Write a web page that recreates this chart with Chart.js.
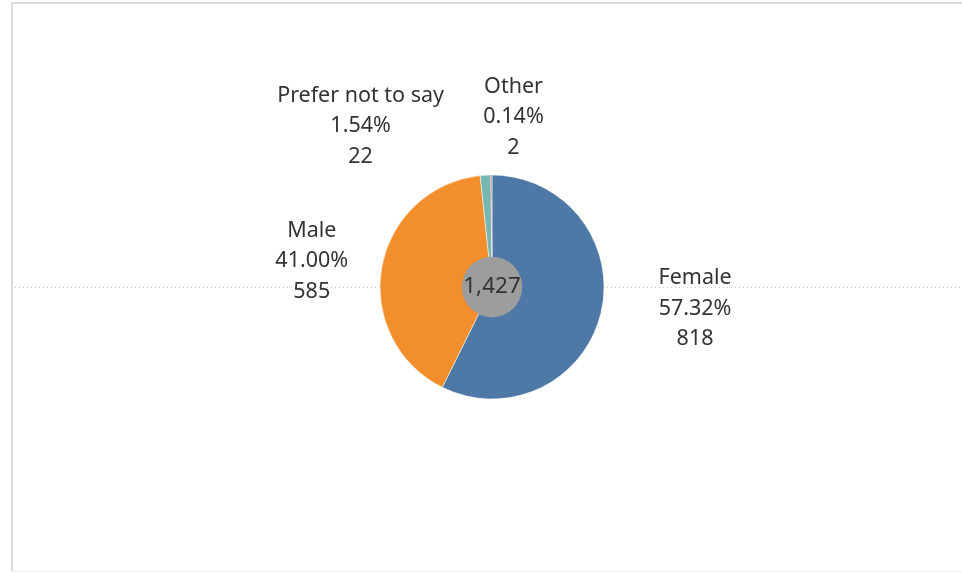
<!DOCTYPE html>
<html>
<head>
<meta charset="utf-8">
<script src="https://cdn.jsdelivr.net/npm/chart.js@4"></script>
<style>
  html, body { margin: 0; padding: 0; background: #fff; }
  #wrap { position: relative; width: 962px; height: 573px; }
  #frame {
    position: absolute; left: 11px; top: 2px; right: 0; bottom: 1px;
    border-top: 2px solid #dcdcdc; border-left: 2px solid #dcdcdc;
    border-bottom: 1px solid #f0f0f0;
  }
  canvas { position: absolute; left: 0; top: 0; }
</style>
</head>
<body>
<div id="wrap">
  <div id="frame"></div>
  <canvas id="chart" width="962" height="573"></canvas>
</div>
<script>
//categories, sorted the way the pie goes round from 12 o'clock
const categories = ["Female", "Male", "Prefer not to say", "Other"];
//counts per category
const counts = [818, 585, 22, 2];
//percent labels as shown
const percents = ["57.32%", "41.00%", "1.54%", "0.14%"];
//slice colours
const sliceColors = ["#4e79a7", "#f28e2b", "#76b7b2", "#e15759"];

//where each label sits relative to the outer edge of its slice
const labelNudge = [[94, -4], [-70, -6], [-125, -49], [22, -58]];

const fontFamily = "'Noto Sans', 'Open Sans', sans-serif";

//dotted line across the middle, behind the pie
const guideLine = {
  id: "guideLine",
  beforeDatasetsDraw(chart) {
    const ctx = chart.ctx;
    const arc = chart.getDatasetMeta(0).data[0];
    ctx.save();
    ctx.strokeStyle = "#c4c4c4";
    ctx.lineWidth = 1;
    ctx.setLineDash([1, 3]);
    ctx.beginPath();
    ctx.moveTo(15, Math.round(arc.y) + 0.5);
    ctx.lineTo(chart.width, Math.round(arc.y) + 0.5);
    ctx.stroke();
    ctx.restore();
  },
};

//grey hole with the total, plus the slice labels
const labelsAndTotal = {
  id: "labelsAndTotal",
  afterDatasetsDraw(chart) {
    const ctx = chart.ctx;
    const meta = chart.getDatasetMeta(0);
    const first = meta.data[0];
    ctx.save();
    //centre circle
    ctx.fillStyle = "#9d9d9d";
    ctx.beginPath();
    ctx.arc(first.x, first.y, first.outerRadius * 0.27, 0, Math.PI * 2);
    ctx.fill();
    const total = counts.reduce((a, b) => a + b, 0);
    ctx.fillStyle = "#333333";
    ctx.font = "22.5px " + fontFamily;
    ctx.textAlign = "center";
    ctx.textBaseline = "middle";
    ctx.fillText(total.toLocaleString("en-US"), first.x, first.y);

    //labels
    ctx.font = "21.5px " + fontFamily;
    meta.data.forEach((arc, i) => {
      const mid = (arc.startAngle + arc.endAngle) / 2;
      const ax = arc.x + Math.cos(mid) * arc.outerRadius;
      const ay = arc.y + Math.sin(mid) * arc.outerRadius;
      const cx = ax + labelNudge[i][0];
      const cy = ay + labelNudge[i][1];
      const lines = [categories[i], percents[i], counts[i].toLocaleString("en-US")];
      lines.forEach((t, k) => {
        ctx.fillText(t, cx, cy + (k - 1) * 30.5);
      });
    });
    ctx.restore();
  },
};

new Chart(document.getElementById("chart"), {
  type: "pie",
  plugins: [guideLine, labelsAndTotal],
  data: {
    labels: categories,
    datasets: [
      {
        data: counts,
        backgroundColor: sliceColors,
        borderColor: "#ffffff",
        borderWidth: 0.5,
      },
    ],
  },
  options: {
    responsive: false,
    animation: false,
    radius: 112,
    layout: { padding: { left: 22, right: 0, top: 1, bottom: 0 } },
    plugins: {
      legend: { display: false },
      tooltip: { enabled: false },
    },
  },
});
</script>
</body>
</html>
